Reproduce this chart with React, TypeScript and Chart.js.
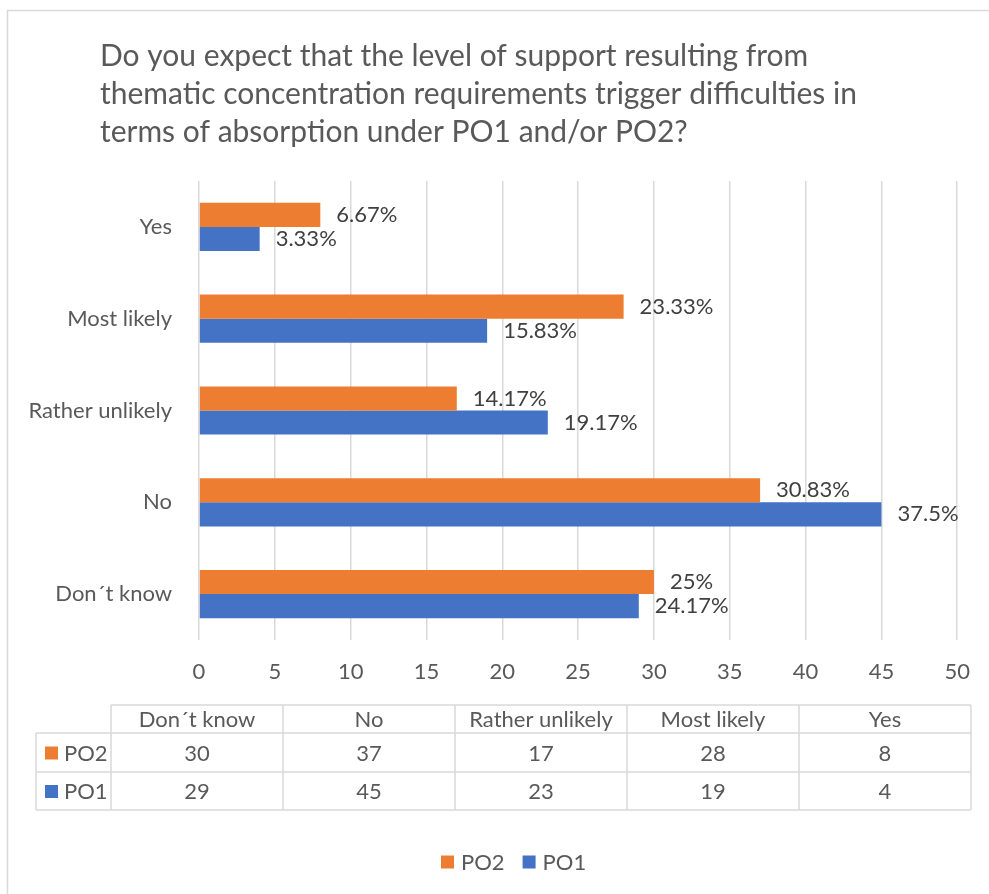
import React, { useEffect, useRef } from "react";
import { Chart, registerables } from "chart.js";

Chart.register(...registerables);

// ---------- data ----------
const categories = ["Don´t know", "No", "Rather unlikely", "Most likely", "Yes"];
const seriesNames = ["PO2", "PO1"];
const po2Values = [30, 37, 17, 28, 8];
const po1Values = [29, 45, 23, 19, 4];
const po2Percent = ["25%", "30.83%", "14.17%", "23.33%", "6.67%"];
const po1Percent = ["24.17%", "37.5%", "19.17%", "15.83%", "3.33%"];
const axisMin = 0;
const axisMax = 50;
const axisStep = 5;
const titleLines = [
  "Do you expect that the level of support resulting from",
  "thematic concentration requirements trigger difficulties in",
  "terms of absorption under PO1 and/or PO2?",
];

// ---------- style ----------
const W = 989;
const H = 894;
const FONT = "Lato";
const FS = 22;
const ORANGE = "#ED7D31";
const BLUE = "#4472C4";
const TEXT = "#595959";
const LABEL = "#404040";
const GRID = "#D9D9D9";
const seriesColors = [ORANGE, BLUE];

const decorPlugin = {
  id: "decor",
  afterDraw(chart: any) {
    const ctx = chart.ctx as CanvasRenderingContext2D;
    ctx.save();

    // outer border
    ctx.strokeStyle = GRID;
    ctx.lineWidth = 1.5;
    ctx.beginPath();
    ctx.moveTo(7.5, H + 2);
    ctx.lineTo(7.5, 10.5);
    ctx.lineTo(W + 2, 10.5);
    ctx.stroke();

    // title
    ctx.fillStyle = TEXT;
    ctx.font = `30px ${FONT}`;
    ctx.textAlign = "left";
    ctx.textBaseline = "alphabetic";
    titleLines.forEach((t, i) => ctx.fillText(t, 100, 66 + i * 38));

    // data labels
    ctx.font = `${FS}px ${FONT}`;
    ctx.fillStyle = LABEL;
    ctx.textBaseline = "middle";
    const pct = [po2Percent.slice().reverse(), po1Percent.slice().reverse()];
    chart.data.datasets.forEach((_: any, di: number) => {
      const meta = chart.getDatasetMeta(di);
      meta.data.forEach((bar: any, i: number) => {
        ctx.fillText(pct[di][i], bar.x + 16, bar.y);
      });
    });

    // data table
    const colL = 111;
    const colW = 172;
    const labL = 36;
    const rowY = [705, 733, 772, 810];
    ctx.strokeStyle = GRID;
    ctx.lineWidth = 1.5;
    ctx.beginPath();
    ctx.moveTo(colL, rowY[0]);
    ctx.lineTo(colL + colW * categories.length, rowY[0]);
    for (let r = 1; r < rowY.length; r++) {
      ctx.moveTo(labL, rowY[r]);
      ctx.lineTo(colL + colW * categories.length, rowY[r]);
    }
    for (let c = 0; c <= categories.length; c++) {
      ctx.moveTo(colL + colW * c, rowY[0]);
      ctx.lineTo(colL + colW * c, rowY[3]);
    }
    ctx.moveTo(labL, rowY[1]);
    ctx.lineTo(labL, rowY[3]);
    ctx.stroke();

    ctx.fillStyle = TEXT;
    ctx.font = `${FS}px ${FONT}`;
    ctx.textAlign = "center";
    ctx.textBaseline = "middle";
    categories.forEach((c, i) => ctx.fillText(c, colL + colW * (i + 0.5), (rowY[0] + rowY[1]) / 2 + 1));
    const vals = [po2Values, po1Values];
    vals.forEach((arr, r) => {
      const cy = (rowY[r + 1] + rowY[r + 2]) / 2 + 1;
      arr.forEach((v, i) => ctx.fillText(String(v), colL + colW * (i + 0.5), cy));
      ctx.fillStyle = seriesColors[r];
      ctx.fillRect(45, cy - 7, 13, 13);
      ctx.fillStyle = TEXT;
      ctx.textAlign = "left";
      ctx.fillText(seriesNames[r], 64, cy);
      ctx.textAlign = "center";
    });

    // legend
    ctx.textAlign = "left";
    let lx = 441;
    const ly = 862;
    seriesNames.forEach((n, i) => {
      ctx.fillStyle = seriesColors[i];
      ctx.fillRect(lx, ly - 6.5, 13, 13);
      ctx.fillStyle = TEXT;
      ctx.fillText(n, lx + 20, ly + 1);
      lx += 20 + ctx.measureText(n).width + 18;
    });

    ctx.restore();
  },
};

export default function App() {
  const ref = useRef<HTMLCanvasElement | null>(null);
  useEffect(() => {
    if (!ref.current) return;
    const labels = categories.slice().reverse();
    const chart = new Chart(ref.current, {
      type: "bar",
      data: {
        labels,
        datasets: [
          { label: seriesNames[0], data: po2Values.slice().reverse(), backgroundColor: ORANGE },
          { label: seriesNames[1], data: po1Values.slice().reverse(), backgroundColor: BLUE },
        ],
      },
      options: {
        indexAxis: "y",
        responsive: false,
        animation: false,
        devicePixelRatio: 1,
        layout: { padding: { left: 0, top: 181, right: 30, bottom: 894 - 640 - 50 } },
        plugins: { legend: { display: false }, title: { display: false }, tooltip: { enabled: false } },
        datasets: { bar: { categoryPercentage: 0.525, barPercentage: 1 } },
        scales: {
          x: {
            min: axisMin,
            max: axisMax,
            ticks: { stepSize: axisStep, color: TEXT, font: { family: FONT, size: FS }, padding: 19 },
            grid: { color: GRID, lineWidth: 1.5, drawTicks: false },
            border: { display: false },
            afterFit: (s: any) => { s.height = 50; },
          },
          y: {
            ticks: { color: TEXT, font: { family: FONT, size: FS }, padding: 27 },
            grid: { display: false, drawTicks: false },
            border: { display: false },
            afterFit: (s: any) => { s.width = 199; },
          },
        },
      },
      plugins: [decorPlugin],
    });
    return () => chart.destroy();
  }, []);
  return (
    <div style={{ position: "absolute", left: 0, top: 0, width: W, height: H, background: "#fff" }}>
      <canvas ref={ref} width={W} height={H} style={{ width: W, height: H, display: "block" }} />
    </div>
  );
}
